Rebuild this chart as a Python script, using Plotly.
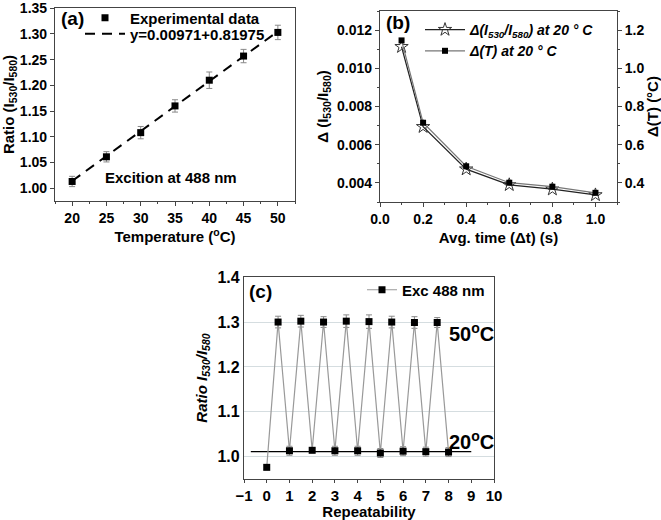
import plotly.graph_objects as go

# ---------- data ----------
# (a) ratio vs temperature
temp_c = [20, 25, 30, 35, 40, 45, 50]
ratio_a = [1.013, 1.061, 1.108, 1.160, 1.210, 1.257, 1.303]
ratio_a_err = [0.010, 0.010, 0.012, 0.012, 0.016, 0.013, 0.014]
fit_x = [20, 50]
fit_y = [1.014, 1.305]

# (b) precision vs averaging time
avg_time = [0.1, 0.2, 0.4, 0.6, 0.8, 1.0]
delta_ratio = [0.01113, 0.00694, 0.00472, 0.00390, 0.00367, 0.00337]
delta_temp = [1.146, 0.715, 0.487, 0.401, 0.380, 0.348]

# (c) repeatability
rep_x = [0, 0.5, 1, 1.5, 2, 2.5, 3, 3.5, 4, 4.5, 5, 5.5, 6, 6.5, 7, 7.5, 8]
rep_y = [0.976, 1.300, 1.013, 1.302, 1.014, 1.300, 1.013, 1.302, 1.013,
         1.301, 1.008, 1.300, 1.012, 1.299, 1.011, 1.299, 1.010]
rep_err = [0.005, 0.013, 0.010, 0.013, 0.004, 0.012, 0.010, 0.014, 0.010,
           0.015, 0.010, 0.013, 0.010, 0.013, 0.010, 0.011, 0.010]
ref_x = [-0.7, 9.0]
ref_y = [1.011, 1.011]

W, H = 661, 520
FONT = "Liberation Sans, Arial, sans-serif"


def px(x):
    return x / W


def py(y):
    return 1 - y / H


fig = go.Figure()

# ---- panel (a)
fig.add_trace(go.Scatter(
    x=temp_c, y=ratio_a, mode="markers", name="Experimental data",
    marker=dict(symbol="square", size=7, color="black"),
    error_y=dict(type="data", array=ratio_a_err, color="#888888", thickness=1, width=3),
    xaxis="x", yaxis="y", legend="legend"))
fig.add_trace(go.Scatter(
    x=fit_x, y=fit_y, mode="lines", name="y=0.00971+0.81975",
    line=dict(color="black", width=2, dash="10px,7px"),
    xaxis="x", yaxis="y", legend="legend4"))

# ---- panel (b)
fig.add_trace(go.Scatter(
    x=avg_time, y=delta_ratio, mode="lines+markers",
    name="<i>Δ(I<sub>530</sub>/I<sub>580</sub>) at 20 ° C</i>",
    line=dict(color="#222222", width=1.2),
    marker=dict(symbol="star-open", size=10, color="#333333", line=dict(width=1)),
    xaxis="x2", yaxis="y2", legend="legend2"))
fig.add_trace(go.Scatter(
    x=avg_time, y=delta_temp, mode="lines+markers",
    name="<i>Δ(T) at 20 ° C</i>",
    line=dict(color="#777777", width=1.2),
    marker=dict(symbol="square", size=6, color="black"),
    xaxis="x2", yaxis="y3", legend="legend2"))

# ---- panel (c)
fig.add_trace(go.Scatter(
    x=ref_x, y=ref_y, mode="lines", showlegend=False,
    line=dict(color="black", width=1.2), xaxis="x4", yaxis="y4"))
fig.add_trace(go.Scatter(
    x=rep_x, y=rep_y, mode="lines+markers", name="Exc 488 nm",
    line=dict(color="#999999", width=1.2),
    marker=dict(symbol="square", size=7, color="black"),
    error_y=dict(type="data", array=rep_err, color="#888888", thickness=1, width=3),
    xaxis="x4", yaxis="y4", legend="legend3"))

tickfont = dict(family=FONT, size=14, color="black", weight="bold")
titlefont = dict(family=FONT, size=15, color="black", weight="bold")
frame = dict(showline=True, mirror=True, linecolor="#444444", linewidth=1.2,
             ticks="outside", tickcolor="#444444", showgrid=False,
             zeroline=False, automargin=False, ticklabeloverflow="allow")
legfont = dict(family=FONT, size=15, color="black", weight="bold")

fig.update_layout(
    width=W, height=H, margin=dict(l=0, r=0, t=0, b=0, autoexpand=False),
    paper_bgcolor="white", plot_bgcolor="white",
    font=dict(family=FONT, color="black"),
    xaxis=dict(domain=[px(55), px(295)], range=[17.5, 52.5], anchor="y",
               tickvals=[20, 25, 30, 35, 40, 45, 50], ticklen=4, tickfont=tickfont,
               minor=dict(ticks="outside", ticklen=2, dtick=2.5, tickcolor="#444444"),
               title=dict(text="Temperature (<sup>o</sup>C)", font=titlefont, standoff=6),
               **frame),
    yaxis=dict(domain=[py(201), py(8)], range=[0.975, 1.3505], anchor="x",
               tickvals=[1.00, 1.05, 1.10, 1.15, 1.20, 1.25, 1.30, 1.35],
               tickformat=".2f", ticklen=4, tickfont=tickfont,
               title=dict(text="Ratio (I<sub>530</sub>/I<sub>580</sub>)", font=titlefont, standoff=6),
               **frame),
    xaxis2=dict(domain=[px(380), px(617)], range=[0, 1.1], anchor="y2",
                tickvals=[0, 0.2, 0.4, 0.6, 0.8, 1.0], tickformat=".1f",
                ticklen=4, tickfont=tickfont,
                minor=dict(ticks="outside", ticklen=2, dtick=0.1, tickcolor="#444444"),
                title=dict(text="Avg. time (Δt) (s)", font=titlefont, standoff=6),
                **frame),
    yaxis2=dict(domain=[py(202), py(11)], range=[0.003, 0.013], anchor="x2",
                tickvals=[0.004, 0.006, 0.008, 0.010, 0.012], tickformat=".3f",
                ticklen=4, tickfont=tickfont,
                minor=dict(ticks="outside", ticklen=2, dtick=0.001, tickcolor="#444444"),
                title=dict(text="Δ (I<sub>530</sub>/I<sub>580</sub>)", font=titlefont, standoff=4),
                **frame),
    yaxis3=dict(overlaying="y2", side="right", range=[0.3, 1.3], anchor="x2",
                tickvals=[0.4, 0.6, 0.8, 1.0, 1.2], tickformat=".1f",
                showline=False, ticks="outside", ticklen=4, tickcolor="#444444",
                minor=dict(ticks="outside", ticklen=2, dtick=0.1, tickcolor="#444444"),
                showgrid=False, zeroline=False, tickfont=tickfont, automargin=False,
                title=dict(text="Δ(T) (°C)", font=titlefont, standoff=0)),
    xaxis4=dict(domain=[px(244), px(494)], range=[-1, 10], anchor="y4",
                tickvals=list(range(-1, 11)), ticklen=3,
                tickfont=dict(family=FONT, size=15, color="black", weight="bold"),
                title=dict(text="Repeatability", font=titlefont, standoff=2),
                **frame),
    yaxis4=dict(domain=[py(479), py(277)], range=[0.95, 1.4005], anchor="x4",
                tickvals=[1.0, 1.1, 1.2, 1.3, 1.4], tickformat=".1f",
                title=dict(text="<i>Ratio I<sub>530</sub>/I<sub>580</sub></i>", font=titlefont, standoff=6),
                showline=True, mirror=True, linecolor="#444444", linewidth=1.2,
                ticks="", showgrid=True, gridcolor="#d5dde0", gridwidth=1.2,
                zeroline=False, automargin=False, ticklabeloverflow="allow",
                tickfont=dict(family=FONT, size=16, color="black", weight="bold")),
    legend=dict(x=px(80), y=py(18), xanchor="left", yanchor="middle",
                bgcolor="rgba(0,0,0,0)", itemwidth=40, font=legfont),
    legend4=dict(x=px(80), y=py(34), xanchor="left", yanchor="middle",
                 bgcolor="rgba(0,0,0,0)", itemwidth=40, font=legfont),
    legend2=dict(x=px(420), y=py(14), xanchor="left", yanchor="top",
                 bgcolor="rgba(0,0,0,0)", itemwidth=40,
                 font=dict(family=FONT, size=14, color="black", weight="bold")),
    legend3=dict(x=px(362), y=py(290), xanchor="left", yanchor="middle",
                 bgcolor="rgba(0,0,0,0)", itemwidth=30, font=legfont),
)

ann = dict(showarrow=False, font=dict(family=FONT, size=19, color="black", weight="bold"))
big = dict(showarrow=False, font=dict(family=FONT, size=20, color="black", weight="bold"))
fig.add_annotation(text="(a)", xref="paper", yref="paper", x=px(59), y=py(19),
                   xanchor="left", yanchor="middle", **ann)
fig.add_annotation(text="(b)", xref="paper", yref="paper", x=px(384), y=py(23),
                   xanchor="left", yanchor="middle", **ann)
fig.add_annotation(text="(c)", xref="paper", yref="paper", x=px(247), y=py(291),
                   xanchor="left", yanchor="middle", **ann)
fig.add_annotation(text="Excition at 488 nm", xref="x", yref="y", x=24.5, y=1.02,
                   xanchor="left", yanchor="middle", showarrow=False,
                   font=dict(family=FONT, size=15, color="black", weight="bold"))
fig.add_annotation(text="50<sup>o</sup>C", xref="x4", yref="y4", x=7.95, y=1.276,
                   xanchor="left", yanchor="middle", **big)
fig.add_annotation(text="20<sup>o</sup>C", xref="x4", yref="y4", x=7.95, y=1.035,
                   xanchor="left", yanchor="middle", **big)

fig.write_html("out.html", config={"displayModeBar": False},
               post_script="document.body.style.margin='0';document.body.style.overflow='hidden';")
